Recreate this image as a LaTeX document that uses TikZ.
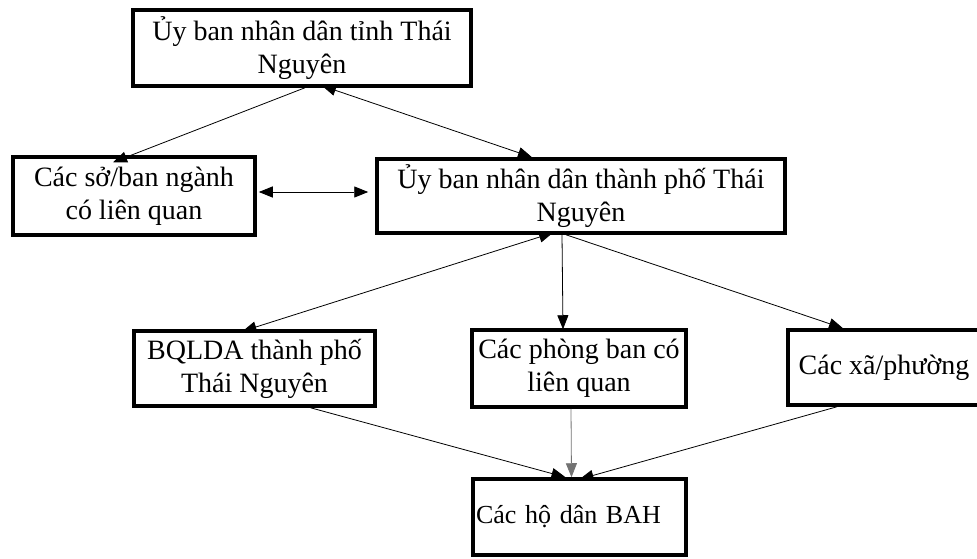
\documentclass[tikz,border=0pt]{standalone}
\usepackage{fontspec}
\setmainfont{Liberation Serif}
\usetikzlibrary{arrows.meta}

\begin{document}
\begin{tikzpicture}[x=1pt, y=-1pt,
            box/.style={rectangle, draw, line width=3.5pt, align=center, inner sep=2pt, font=\fontsize{28}{33}\selectfont},
            link/.style={-{Triangle[length=14pt,width=11pt]}, line width=0.8pt},
            twoway/.style={{Triangle[length=14pt,width=11pt]}-{Triangle[length=14pt,width=11pt]}, line width=0.8pt}
        ]
        \useasboundingbox (0,0) rectangle (977,559);

        % Cấp tỉnh
        \node[box, minimum width=338pt, minimum height=76pt] (tinh) at (302,48) {Ủy ban nhân dân tỉnh Thái\\Nguyên};

        % Cấp thành phố
        \node[box, minimum width=242pt, minimum height=78pt] (soban) at (134,196) {Các sở/ban ngành\\có liên quan};
        \node[box, minimum width=408pt, minimum height=74pt] (thanhpho) at (581,196) {Ủy ban nhân dân thành phố Thái\\Nguyên};

        % Cấp thực hiện
        \node[box, minimum width=241pt, minimum height=75pt] (bqlda) at (254.5,368.5) {BQLDA thành phố\\Thái Nguyên};
        \node[box, minimum width=214pt, minimum height=77pt] (phongban) at (579,368.5) {Các phòng ban có\\liên quan};
        \node[box, minimum width=192pt, minimum height=75pt] (xaphuong) at (884,367.5) {Các xã/phường};
        \node[box, minimum width=213pt, minimum height=76pt, text width=207pt, align=left, font=\fontsize{26}{31}\selectfont] (hodan) at (579.5,517) {Các hộ dân BAH};

        % Kết nối
        \draw[link] ([xshift=3pt]tinh.south) -- ([xshift=-21pt, yshift=-7pt]soban.north);
        \draw[twoway] ([xshift=20pt, yshift=2pt]tinh.south) -- ([xshift=-49pt]thanhpho.north);
        \draw[twoway] ([xshift=2pt, yshift=4pt]soban.east) -- ([xshift=-7pt, yshift=4pt]thanhpho.west);
        \draw[twoway] ([xshift=-28pt, yshift=2pt]thanhpho.south) -- ([xshift=-12pt, yshift=-2pt]bqlda.north);
        \draw[link] ([xshift=-19pt]thanhpho.south) -- ([xshift=-16pt, yshift=-1pt]phongban.north);
        \draw[link] ([xshift=-15pt]thanhpho.south) -- ([xshift=-41pt]xaphuong.north);
        \draw[link] ([xshift=56pt]bqlda.south) -- ([xshift=-14pt]hodan.north);
        \draw[link, draw=black!55] ([xshift=-8pt]phongban.south) -- ([xshift=-8pt]hodan.north);
        \draw[link] ([xshift=-47pt]xaphuong.south) -- ([xshift=0pt, yshift=-2pt]hodan.north);

    \end{tikzpicture}
\end{document}
